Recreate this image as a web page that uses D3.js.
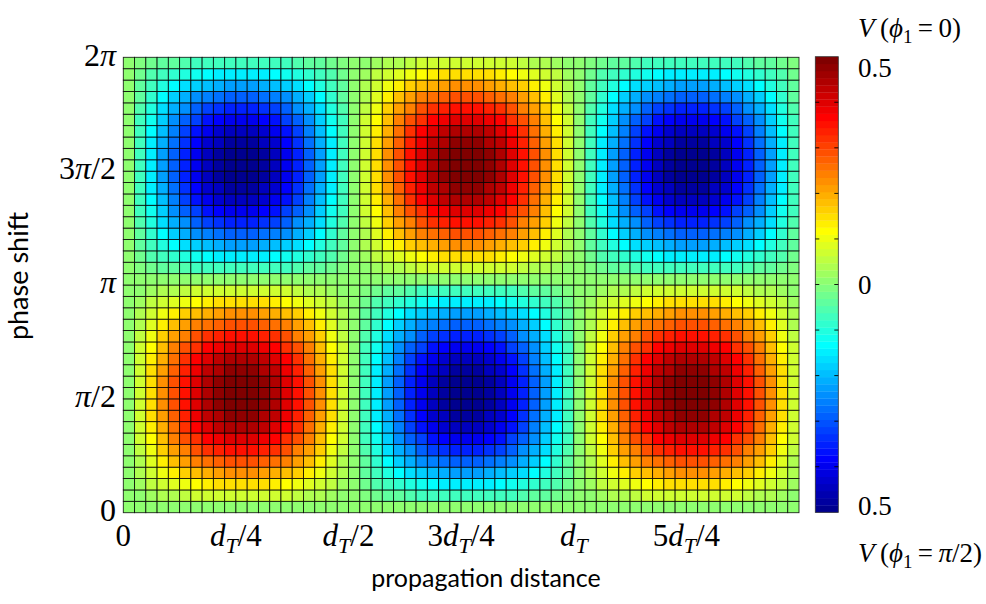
<!DOCTYPE html>
<html><head><meta charset="utf-8">
<script src="https://cdn.jsdelivr.net/npm/d3@7"></script>
<style>body{margin:0;background:#fff} svg{display:block}</style>
</head><body><svg id="c" width="986" height="604"></svg>
<script>
// Relative amplitude of each column (propagation distance, 60 cells from 0 to 1.5 dT)
const distanceProfile = [0, 0.156, 0.309, 0.454, 0.588, 0.707, 0.809, 0.891, 0.951, 0.988, 1, 0.988, 0.951, 0.891, 0.809, 0.707, 0.588, 0.454, 0.309, 0.156, 0,
  -0.156, -0.309, -0.454, -0.588, -0.707, -0.809, -0.891, -0.951, -0.988, -1, -0.988, -0.951, -0.891, -0.809, -0.707, -0.588, -0.454, -0.309, -0.156, 0,
  0.156, 0.309, 0.454, 0.588, 0.707, 0.809, 0.891, 0.951, 0.988, 1, 0.988, 0.951, 0.891, 0.809, 0.707, 0.588, 0.454, 0.309, 0.156];
// Relative amplitude of each row (phase shift, 40 cells from 0 to 2π), bottom to top
const phaseProfile = [0, 0.156, 0.309, 0.454, 0.588, 0.707, 0.809, 0.891, 0.951, 0.988, 1, 0.988, 0.951, 0.891, 0.809, 0.707, 0.588, 0.454, 0.309, 0.156, 0,
  -0.156, -0.309, -0.454, -0.588, -0.707, -0.809, -0.891, -0.951, -0.988, -1, -0.988, -0.951, -0.891, -0.809, -0.707, -0.588, -0.454, -0.309, -0.156];
const peakValue = 0.5;
const distanceStep = 0.025; // in units of dT
const phaseStep = 0.05;     // in units of π
const distanceTicks = [0, 0.25, 0.5, 0.75, 1, 1.25];
const distanceTickLabels = ["0", "d_T/4", "d_T/2", "3d_T/4", "d_T", "5d_T/4"];
const phaseTicks = [0, 0.5, 1, 1.5, 2];
const phaseTickLabels = ["0", "π/2", "π", "3π/2", "2π"];
const colorbarTicks = [-0.4, -0.3, -0.2, -0.1, 0, 0.1, 0.2, 0.3, 0.4];
const colorbarLabelValues = [0.476, 0, -0.485];
const colorbarLabels = ["0.5", "0", "0.5"];

// MATLAB jet(64)
function jet(m) {
  const n = Math.ceil(m / 4), u = [];
  for (let i = 1; i <= n; i++) u.push(i / n);
  for (let i = 0; i < n - 1; i++) u.push(1);
  for (let i = n; i >= 1; i--) u.push(i / n);
  const g0 = Math.ceil(n / 2) - (m % 4 === 1 ? 1 : 0);
  const J = Array.from({length: m}, () => [0, 0, 0]);
  u.forEach((val, idx) => {
    const gi = g0 + idx + 1, ri = gi + n, bi = gi - n;
    if (gi >= 1 && gi <= m) J[gi - 1][1] = val;
    if (ri >= 1 && ri <= m) J[ri - 1][0] = val;
    if (bi >= 1 && bi <= m) J[bi - 1][2] = val;
  });
  return J.map(c => d3.rgb(c[0] * 255, c[1] * 255, c[2] * 255).formatHex());
}
const jetColors = jet(64);
const color = d3.scaleQuantize().domain([-0.5, 0.5]).range(jetColors);

const svg = d3.select("#c");
const L = 123.3, R = 799, T = 57.3, B = 512.7;
const x = d3.scaleLinear().domain([0, distanceProfile.length * distanceStep]).range([L, R]);
const y = d3.scaleLinear().domain([0, phaseProfile.length * phaseStep]).range([B, T]);

const cells = [];
phaseProfile.forEach((p, j) => distanceProfile.forEach((d, i) => cells.push({i, j, v: peakValue * d * p})));

svg.append("g").selectAll("rect").data(cells).join("rect")
  .attr("x", c => x(c.i * distanceStep))
  .attr("y", c => y((c.j + 1) * phaseStep))
  .attr("width", c => x((c.i + 1) * distanceStep) - x(c.i * distanceStep))
  .attr("height", c => y(c.j * phaseStep) - y((c.j + 1) * phaseStep))
  .attr("fill", c => color(c.v))
  .attr("stroke", "#000").attr("stroke-width", 0.9).attr("stroke-opacity", 0.85);

const serif = "'Liberation Serif', 'DejaVu Serif', serif";
const sans = "Lato, 'Open Sans', sans-serif";

// renders strings with π (italic) and d_T (italic d, subscript T)
function mathText(sel, str, small) {
  const parts = str.split(/(d_T|π)/).filter(s => s !== "");
  let pendingDy = 0;
  const add = (txt, italic, size, dy) => {
    const s = sel.append("tspan").text(txt);
    if (italic) s.attr("font-style", "italic");
    if (size) s.attr("font-size", size);
    const d = dy + pendingDy;
    if (d) s.attr("dy", d);
    pendingDy = 0;
  };
  parts.forEach(p => {
    if (p === "d_T") {
      add("d", true, null, 0);
      add("T", true, small, 7);
      pendingDy = -7;
    } else if (p === "π") {
      add("π", true, null, 0);
    } else {
      add(p, false, null, 0);
    }
  });
}

// x tick labels
const xt = svg.append("g");
distanceTicks.forEach((t, k) => {
  const tx = xt.append("text").attr("x", x(t)).attr("y", 546).attr("text-anchor", "middle")
    .attr("font-family", serif).attr("font-size", 31).attr("fill", "#000");
  mathText(tx, distanceTickLabels[k], 22);
});

// y tick labels
const yt = svg.append("g");
phaseTicks.forEach((t, k) => {
  const tx = yt.append("text").attr("x", 116).attr("y", y(t) - 3).attr("dy", "0.35em").attr("text-anchor", "end")
    .attr("font-family", serif).attr("font-size", 32).attr("fill", "#000");
  mathText(tx, phaseTickLabels[k], 22);
});

// axis labels
svg.append("text").attr("x", 486).attr("y", 578).attr("dy", "0.35em").attr("text-anchor", "middle")
  .attr("font-family", sans).attr("font-size", 25).text("propagation distance");
svg.append("text").attr("transform", "translate(19,276) rotate(-90)").attr("dy", "0.35em")
  .attr("text-anchor", "middle").attr("font-family", sans).attr("font-size", 27).text("phase shift");

// colorbar
const cbL = 815.3, cbR = 838.3;
const cb = d3.scaleLinear().domain([-0.5, 0.5]).range([512.3, 56.7]);
const cbg = svg.append("g");
jetColors.forEach((c, k) => {
  const v0 = -0.5 + k / 64, v1 = -0.5 + (k + 1) / 64;
  cbg.append("rect").attr("x", cbL).attr("width", cbR - cbL)
    .attr("y", cb(v1)).attr("height", cb(v0) - cb(v1) + 0.3).attr("fill", c);
});
cbg.append("rect").attr("x", cbL).attr("y", cb(0.5)).attr("width", cbR - cbL).attr("height", cb(-0.5) - cb(0.5))
  .attr("fill", "none").attr("stroke", "#333").attr("stroke-width", 0.8);
colorbarTicks.forEach(t => {
  cbg.append("line").attr("x1", cbL).attr("x2", cbL + 4).attr("y1", cb(t)).attr("y2", cb(t)).attr("stroke", "#000").attr("stroke-width", 0.9);
  cbg.append("line").attr("x1", cbR - 4).attr("x2", cbR).attr("y1", cb(t)).attr("y2", cb(t)).attr("stroke", "#000").attr("stroke-width", 0.9);
});
colorbarLabelValues.forEach((v, k) => {
  cbg.append("text").attr("x", 858).attr("y", cb(v)).attr("dy", "0.35em")
    .attr("font-family", serif).attr("font-size", 27).text(colorbarLabels[k]);
});

function vTitle(yy, phiVal) {
  const t = svg.append("text").attr("x", 858).attr("y", yy).attr("font-family", serif).attr("font-size", 27);
  t.append("tspan").attr("font-style", "italic").text("V");
  t.append("tspan").text("\u2009(");
  t.append("tspan").attr("font-style", "italic").text("ϕ");
  t.append("tspan").attr("font-size", 19).attr("dy", 6).text("1");
  t.append("tspan").attr("dy", -6).text("\u2009=\u2009");
  mathText(t, phiVal + ")", 19);
}
vTitle(37, "0");
vTitle(562, "π/2");
</script></body></html>
